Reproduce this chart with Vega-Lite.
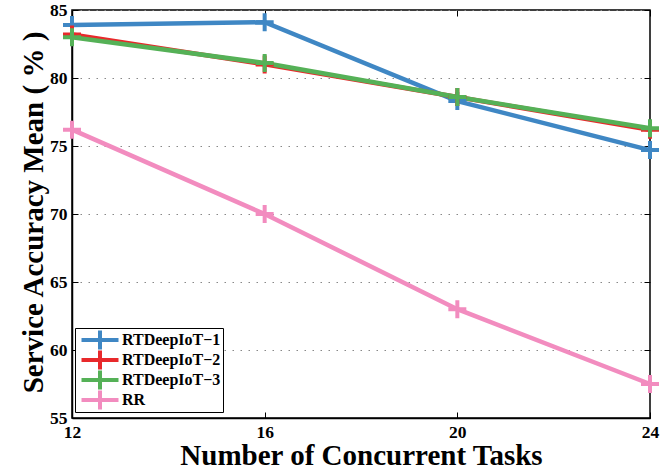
{
  "$schema": "https://vega.github.io/schema/vega-lite/v6.json",
  "width": 578,
  "height": 408,
  "autosize": "none",
  "padding": {"left": 72, "top": 10, "right": 12, "bottom": 55},
  "background": "white",
  "config": {
    "view": {"stroke": "black", "strokeWidth": 1.5},
    "font": "Liberation Serif",
    "axis": {
      "domainColor": "black",
      "domainWidth": 1.5,
      "tickColor": "black",
      "tickSize": -6,
      "tickWidth": 1,
      "labelFont": "Liberation Serif",
      "labelFontWeight": "bold",
      "labelFontSize": 17.5,
      "labelColor": "black",
      "titleFont": "Liberation Serif",
      "titleFontWeight": "bold",
      "titleColor": "black",
      "gridDash": [1.5, 6.5],
      "gridColor": "#888888",
      "gridWidth": 1
    }
  },
  "data": {
    "values": [
      {"tasks": 12, "method": "RTDeepIoT−1", "acc": 83.9},
      {"tasks": 16, "method": "RTDeepIoT−1", "acc": 84.1},
      {"tasks": 20, "method": "RTDeepIoT−1", "acc": 78.3},
      {"tasks": 24, "method": "RTDeepIoT−1", "acc": 74.7},
      {"tasks": 12, "method": "RTDeepIoT−2", "acc": 83.2},
      {"tasks": 16, "method": "RTDeepIoT−2", "acc": 81.0},
      {"tasks": 20, "method": "RTDeepIoT−2", "acc": 78.6},
      {"tasks": 24, "method": "RTDeepIoT−2", "acc": 76.2},
      {"tasks": 12, "method": "RTDeepIoT−3", "acc": 83.0},
      {"tasks": 16, "method": "RTDeepIoT−3", "acc": 81.1},
      {"tasks": 20, "method": "RTDeepIoT−3", "acc": 78.6},
      {"tasks": 24, "method": "RTDeepIoT−3", "acc": 76.3},
      {"tasks": 12, "method": "RR", "acc": 76.2},
      {"tasks": 16, "method": "RR", "acc": 70.0},
      {"tasks": 20, "method": "RR", "acc": 63.0},
      {"tasks": 24, "method": "RR", "acc": 57.5}
    ]
  },
  "resolve": {"axis": {"x": "independent", "y": "independent"}},
  "layer": [
    {
      "encoding": {
        "x": {
          "field": "tasks",
          "type": "quantitative",
          "scale": {"domain": [12, 24], "nice": false, "zero": false},
          "axis": {"values": [12, 16, 20, 24], "title": "Number of Concurrent Tasks", "titleFontSize": 29, "titleBaseline": "alphabetic", "titleY": 46, "labelPadding": 11, "labelFlush": false, "grid": false}
        },
        "y": {
          "field": "acc",
          "type": "quantitative",
          "scale": {"domain": [55, 85], "nice": false, "zero": false},
          "axis": {"values": [55, 60, 65, 70, 75, 80, 85], "title": "Service Accuracy Mean ( % )", "titleFontSize": 29, "titleBaseline": "alphabetic", "titleX": -30, "titleY": 202, "labelPadding": 11, "labelFlush": false, "grid": true}
        },
        "color": {
          "field": "method",
          "type": "nominal",
          "sort": ["RTDeepIoT−1", "RTDeepIoT−2", "RTDeepIoT−3", "RR"],
          "scale": {
            "domain": ["RTDeepIoT−1", "RTDeepIoT−2", "RTDeepIoT−3", "RR"],
            "range": ["#3f87c4", "#e8292b", "#55b157", "#f28cbf"]
          },
          "legend": {
            "title": null,
            "orient": "none",
            "legendX": 3,
            "legendY": 318,
            "strokeColor": "black",
            "fillColor": "white",
            "padding": 2,
            "rowPadding": 0,
            "clipHeight": 20,
            "labelFont": "Liberation Serif",
            "labelFontWeight": "bold",
            "labelFontSize": 16,
            "labelColor": "black",
            "labelOffset": 14,
            "symbolOffset": 15,
            "symbolType": "M-3.7,0H3.7M0,-1.9V1.9",
            "symbolSize": 100,
            "symbolStrokeWidth": 4,
            "symbolFillColor": "transparent"
          }
        }
      },
      "layer": [
        {"mark": {"type": "line", "strokeWidth": 4.5}},
        {"mark": {"type": "point", "shape": "M-1,0H1M0,-1V1", "filled": false, "size": 324, "strokeWidth": 4, "opacity": 1}}
      ]
    },
    {
      "mark": {"type": "point", "opacity": 0},
      "encoding": {
        "x": {
          "field": "tasks",
          "type": "quantitative",
          "axis": {"orient": "top", "values": [12, 16, 20, 24], "title": null, "labels": false, "domain": false, "grid": false}
        },
        "y": {
          "field": "acc",
          "type": "quantitative",
          "axis": {"orient": "right", "values": [55, 60, 65, 70, 75, 80, 85], "title": null, "labels": false, "domain": false, "grid": false}
        }
      }
    }
  ]
}
